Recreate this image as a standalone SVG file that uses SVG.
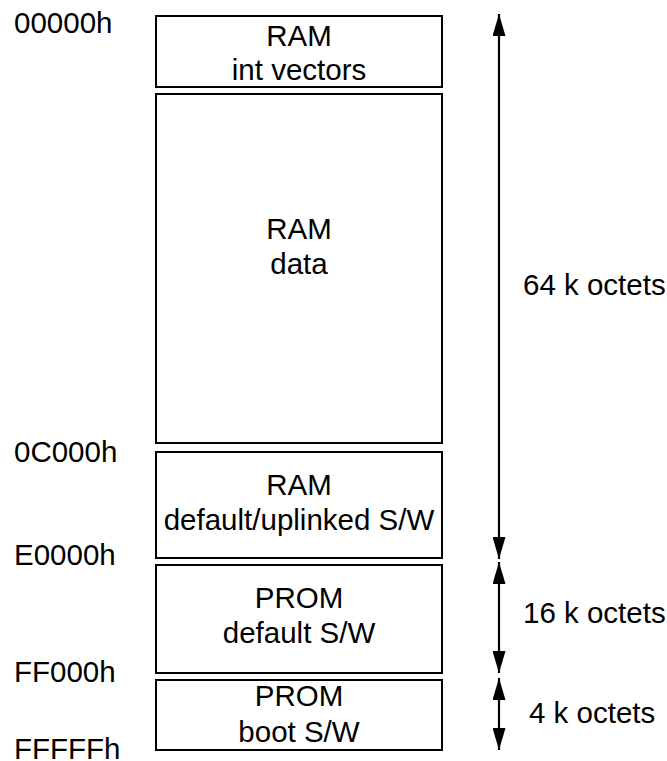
<svg xmlns="http://www.w3.org/2000/svg" width="667" height="761" viewBox="0 0 667 761">
<defs>
<marker id="ah" viewBox="0 0 22 13" refX="22" refY="6.5" markerWidth="22" markerHeight="13" markerUnits="userSpaceOnUse" orient="auto-start-reverse">
<path d="M0,0 L22,6.5 L0,13 Z" fill="#000"/>
</marker>
<style>
.box{fill:#fff;stroke:#000;stroke-width:2}
text{font-family:"Liberation Sans",Arial,sans-serif;font-size:29.5px;fill:#000}
.c{text-anchor:middle}
.arr{stroke:#000;stroke-width:2.2;fill:none;marker-start:url(#ah);marker-end:url(#ah)}
</style>
</defs>
<rect width="667" height="761" fill="#fff"/>
<g id="labels">
<text x="14" y="33">00000h</text>
<text x="14" y="462">0C000h</text>
<text x="14" y="565">E0000h</text>
<text x="14" y="682">FF000h</text>
<text x="14" y="759">FFFFFh</text>
</g>
<g id="ram-int-vectors">
<rect class="box" x="156" y="16" width="286" height="71"/>
<text class="c" x="299" y="46">RAM</text>
<text class="c" x="299" y="80">int vectors</text>
</g>
<g id="ram-data">
<rect class="box" x="156" y="94" width="286" height="349"/>
<text class="c" x="299" y="239">RAM</text>
<text class="c" x="299" y="274">data</text>
</g>
<g id="ram-default">
<rect class="box" x="156" y="452" width="286" height="106"/>
<text class="c" x="299" y="495">RAM</text>
<text class="c" x="299" y="530">default/uplinked S/W</text>
</g>
<g id="prom-default">
<rect class="box" x="156" y="565" width="286" height="108"/>
<text class="c" x="299" y="608">PROM</text>
<text class="c" x="299" y="643">default S/W</text>
</g>
<g id="prom-boot">
<rect class="box" x="156" y="680" width="286" height="70"/>
<text class="c" x="299" y="706">PROM</text>
<text class="c" x="299" y="742">boot S/W</text>
</g>
<g id="connectors">
<line class="arr" x1="499" y1="14" x2="499" y2="559"/>
<line class="arr" x1="499" y1="562" x2="499" y2="673"/>
<line class="arr" x1="499" y1="678" x2="499" y2="750"/>
</g>
<g id="sizes">
<text x="523" y="295">64 k octets</text>
<text x="523" y="623">16 k octets</text>
<text x="529" y="723">4 k octets</text>
</g>
</svg>
